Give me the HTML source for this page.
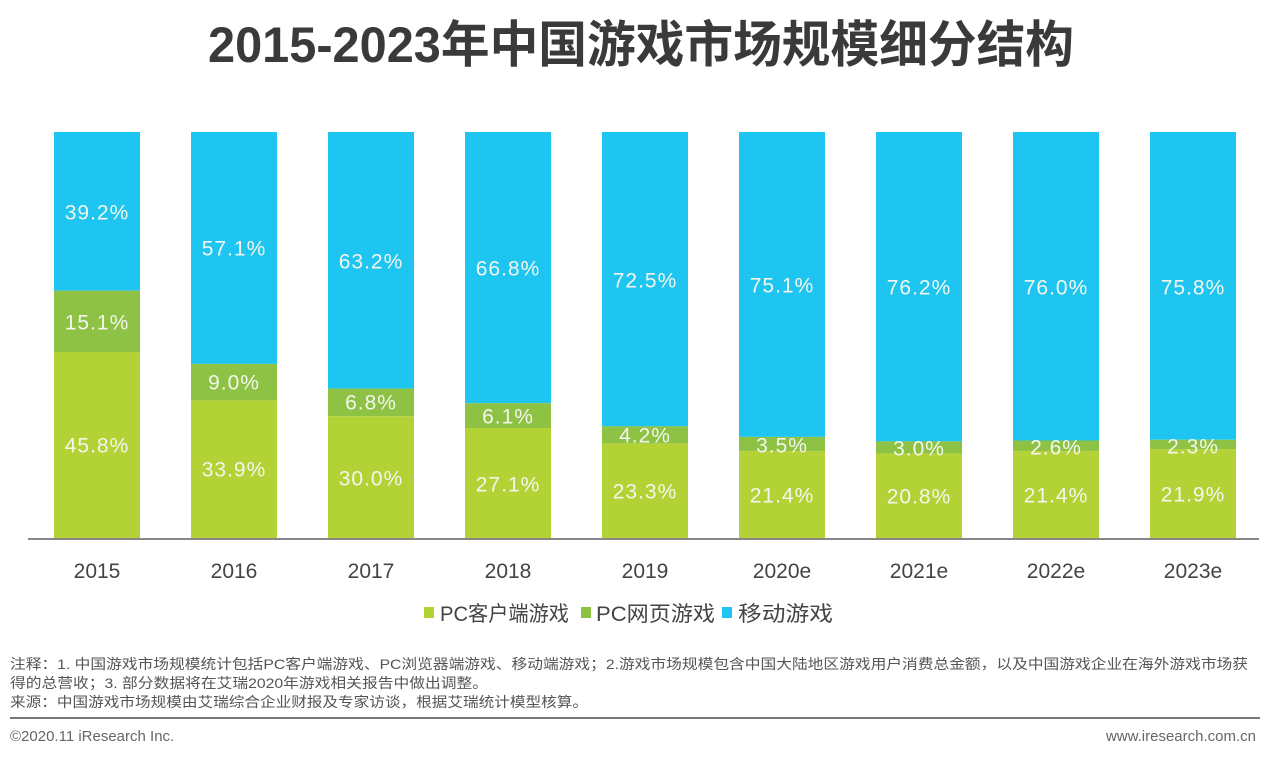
<!DOCTYPE html>
<html><head><meta charset="utf-8"><style>
html,body{margin:0;padding:0;background:#fff;}
svg{display:block;}
text{font-family:"Liberation Sans","Noto Sans CJK SC",sans-serif;}
.v{font-family:"DejaVu Sans","Liberation Sans",sans-serif;font-size:21px;letter-spacing:1px;fill:#f4f6ee;text-anchor:middle;dominant-baseline:central;}
.y{font-family:"DejaVu Sans","Liberation Sans",sans-serif;font-size:21px;fill:#444;text-anchor:middle;}
.n{font-size:14px;fill:#555;}
</style></head><body>
<svg width="1267" height="759" viewBox="0 0 1267 759" xmlns="http://www.w3.org/2000/svg">
<text x="641" y="62" text-anchor="middle" font-size="50" font-weight="bold" fill="#3a3a3a" textLength="866" lengthAdjust="spacingAndGlyphs">2015-2023年中国游戏市场规模细分结构</text>
<g>
<rect x="54" y="132" width="86" height="158.7" fill="#1dc5f0"/><rect x="54" y="290.7" width="86" height="61.3" fill="#8dc244"/><rect x="54" y="352" width="86" height="186" fill="#b3d235"/>
<rect x="191" y="132" width="86" height="231.9" fill="#1dc5f0"/><rect x="191" y="363.9" width="86" height="36.5" fill="#8dc244"/><rect x="191" y="400.4" width="86" height="137.6" fill="#b3d235"/>
<rect x="328" y="132" width="86" height="256.6" fill="#1dc5f0"/><rect x="328" y="388.6" width="86" height="27.6" fill="#8dc244"/><rect x="328" y="416.2" width="86" height="121.8" fill="#b3d235"/>
<rect x="465" y="132" width="86" height="271.2" fill="#1dc5f0"/><rect x="465" y="403.2" width="86" height="24.8" fill="#8dc244"/><rect x="465" y="428" width="86" height="110" fill="#b3d235"/>
<rect x="602" y="132" width="86" height="294.3" fill="#1dc5f0"/><rect x="602" y="426.3" width="86" height="17.1" fill="#8dc244"/><rect x="602" y="443.4" width="86" height="94.6" fill="#b3d235"/>
<rect x="739" y="132" width="86" height="304.9" fill="#1dc5f0"/><rect x="739" y="436.9" width="86" height="14.2" fill="#8dc244"/><rect x="739" y="451.1" width="86" height="86.9" fill="#b3d235"/>
<rect x="876" y="132" width="86" height="309.4" fill="#1dc5f0"/><rect x="876" y="441.4" width="86" height="12.2" fill="#8dc244"/><rect x="876" y="453.6" width="86" height="84.4" fill="#b3d235"/>
<rect x="1013" y="132" width="86" height="308.5" fill="#1dc5f0"/><rect x="1013" y="440.5" width="86" height="10.6" fill="#8dc244"/><rect x="1013" y="451.1" width="86" height="86.9" fill="#b3d235"/>
<rect x="1150" y="132" width="86" height="307.8" fill="#1dc5f0"/><rect x="1150" y="439.8" width="86" height="9.3" fill="#8dc244"/><rect x="1150" y="449.1" width="86" height="88.9" fill="#b3d235"/>
</g>
<line x1="28" y1="539" x2="1259" y2="539" stroke="#888" stroke-width="2"/>
<g class="v">
<text x="97" y="213">39.2%</text><text x="97" y="323">15.1%</text><text x="97" y="446">45.8%</text>
<text x="234" y="249">57.1%</text><text x="234" y="383">9.0%</text><text x="234" y="470">33.9%</text>
<text x="371" y="262">63.2%</text><text x="371" y="403">6.8%</text><text x="371" y="479">30.0%</text>
<text x="508" y="269">66.8%</text><text x="508" y="417">6.1%</text><text x="508" y="485">27.1%</text>
<text x="645" y="281">72.5%</text><text x="645" y="436">4.2%</text><text x="645" y="492">23.3%</text>
<text x="782" y="286">75.1%</text><text x="782" y="446">3.5%</text><text x="782" y="496">21.4%</text>
<text x="919" y="288">76.2%</text><text x="919" y="449">3.0%</text><text x="919" y="497">20.8%</text>
<text x="1056" y="288">76.0%</text><text x="1056" y="448">2.6%</text><text x="1056" y="496">21.4%</text>
<text x="1193" y="288">75.8%</text><text x="1193" y="447">2.3%</text><text x="1193" y="495">21.9%</text>
</g>
<g class="y">
<text x="97" y="578">2015</text><text x="234" y="578">2016</text><text x="371" y="578">2017</text><text x="508" y="578">2018</text><text x="645" y="578">2019</text><text x="782" y="578">2020e</text><text x="919" y="578">2021e</text><text x="1056" y="578">2022e</text><text x="1193" y="578">2023e</text>
</g>
<rect x="424" y="607" width="10" height="11" fill="#b3d235"/>
<text x="440" y="621" font-size="21" fill="#444" textLength="129" lengthAdjust="spacingAndGlyphs">PC客户端游戏</text>
<rect x="581" y="607" width="10" height="11" fill="#8dc244"/>
<text x="596" y="621" font-size="21" fill="#444" textLength="119" lengthAdjust="spacingAndGlyphs">PC网页游戏</text>
<rect x="722" y="607" width="10" height="11" fill="#1dc5f0"/>
<text x="738" y="621" font-size="21" fill="#444" textLength="95" lengthAdjust="spacingAndGlyphs">移动游戏</text>
<text class="n" x="10" y="669" textLength="1238" lengthAdjust="spacingAndGlyphs">注释：1. 中国游戏市场规模统计包括PC客户端游戏、PC浏览器端游戏、移动端游戏；2.游戏市场规模包含中国大陆地区游戏用户消费总金额，以及中国游戏企业在海外游戏市场获</text>
<text class="n" x="10" y="688" textLength="478" lengthAdjust="spacingAndGlyphs">得的总营收；3. 部分数据将在艾瑞2020年游戏相关报告中做出调整。</text>
<text class="n" x="10" y="707" textLength="578" lengthAdjust="spacingAndGlyphs">来源：中国游戏市场规模由艾瑞综合企业财报及专家访谈，根据艾瑞统计模型核算。</text>
<line x1="10" y1="718" x2="1260" y2="718" stroke="#777" stroke-width="2"/>
<text x="10" y="741" font-size="15" fill="#666">©2020.11 iResearch Inc.</text>
<text x="1256" y="741" font-size="15" fill="#666" text-anchor="end">www.iresearch.com.cn</text>
</svg>
</body></html>
